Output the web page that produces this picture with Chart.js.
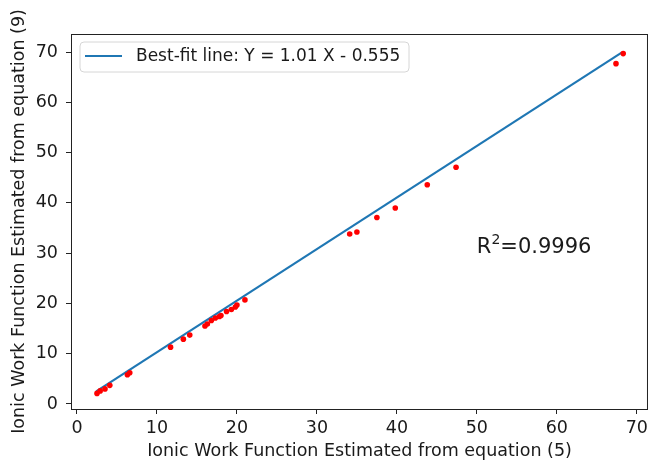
<!DOCTYPE html>
<html>
<head>
<meta charset="utf-8">
<script src="https://cdn.jsdelivr.net/npm/chart.js@4/dist/chart.umd.min.js"></script>
<style>
  html, body { margin: 0; padding: 0; background: #fff; }
  #wrap { width: 652px; height: 462px; }
</style>
</head>
<body>
<div id="wrap"><canvas id="chart" width="652" height="462"></canvas></div>
<script>
// values
const xValues = [2.5, 2.9, 3.5, 4.1, 6.3, 6.6, 11.7, 13.3, 14.1, 16.0, 16.3, 16.8, 17.3, 17.8, 18.0, 18.7, 19.3, 19.8, 20.0, 21.0, 34.1, 35.0, 37.5, 39.8, 43.8, 47.4, 67.4, 68.3];
const yValues = [2.1, 2.6, 3.0, 3.7, 5.8, 6.2, 11.3, 12.9, 13.7, 15.5, 15.9, 16.6, 17.1, 17.4, 17.6, 18.4, 18.8, 19.3, 19.7, 20.7, 33.8, 34.2, 37.1, 39.0, 43.6, 47.1, 67.7, 69.7];
const fitX = [2.4, 68.1];
const fitY = [2.5, 69.9];
const tickValues = [0, 10, 20, 30, 40, 50, 60, 70];
const fitLabel = 'Best-fit line: Y = 1.01 X - 0.555';
const r2Text = '0.9996';

const FONT = 'DejaVu Sans';
const lineColor = '#1f77b4';
const pointColor = '#ff0000';
const textColor = '#1a1a1a';

const points = xValues.map((x, i) => ({ x: x, y: yValues[i] }));
const fitLine = fitX.map((x, i) => ({ x: x, y: fitY[i] }));

// frame, legend box and R^2 note
const extras = {
  id: 'extras',
  afterDraw(chart) {
    const ctx = chart.ctx;
    const a = chart.chartArea;
    ctx.save();
    ctx.strokeStyle = '#222';
    ctx.lineWidth = 1;
    ctx.strokeRect(a.left + 0.5, a.top + 0.5, a.right - a.left - 1, a.bottom - a.top);

    // legend
    const bx = 80, by = 42, bw = 329, bh = 30, r = 4;
    ctx.beginPath();
    ctx.moveTo(bx + r, by);
    ctx.arcTo(bx + bw, by, bx + bw, by + bh, r);
    ctx.arcTo(bx + bw, by + bh, bx, by + bh, r);
    ctx.arcTo(bx, by + bh, bx, by, r);
    ctx.arcTo(bx, by, bx + bw, by, r);
    ctx.closePath();
    ctx.fillStyle = 'rgba(255,255,255,0.85)';
    ctx.fill();
    ctx.strokeStyle = '#d6d6d6';
    ctx.stroke();
    ctx.strokeStyle = lineColor;
    ctx.lineWidth = 2.2;
    ctx.beginPath();
    ctx.moveTo(85, 56);
    ctx.lineTo(122, 56);
    ctx.stroke();
    ctx.fillStyle = textColor;
    ctx.font = '17px "' + FONT + '"';
    ctx.textBaseline = 'middle';
    ctx.textAlign = 'left';
    ctx.fillText(fitLabel, 136, 57);

    // R^2 text at data (50, 30)
    const x = chart.scales.x.getPixelForValue(50);
    const y = chart.scales.y.getPixelForValue(30);
    ctx.textBaseline = 'alphabetic';
    ctx.font = '21px "' + FONT + '"';
    ctx.fillText('R', x, y);
    let w = ctx.measureText('R').width;
    ctx.font = '14px "' + FONT + '"';
    ctx.fillText('2', x + w, y - 9);
    w += ctx.measureText('2').width;
    ctx.font = '21px "' + FONT + '"';
    ctx.fillText('=' + r2Text, x + w, y);
    ctx.restore();
  }
};

const setTicks = (scale) => {
  scale.ticks = tickValues.map((v) => ({ value: v }));
};

new Chart(document.getElementById('chart').getContext('2d'), {
  type: 'scatter',
  data: {
    datasets: [
      {
        label: fitLabel,
        data: fitLine,
        showLine: true,
        borderColor: lineColor,
        borderWidth: 2.2,
        pointRadius: 0,
        order: 2,
      },
      {
        label: 'data',
        data: points,
        backgroundColor: pointColor,
        borderColor: pointColor,
        pointRadius: 2.8,
        borderWidth: 0,
        order: 1,
      },
    ],
  },
  options: {
    responsive: false,
    animation: false,
    layout: { padding: { top: 34, right: 3, left: 0, bottom: 0 } },
    plugins: {
      legend: { display: false },
      tooltip: { enabled: false },
    },
    scales: {
      x: {
        type: 'linear',
        min: -0.75,
        max: 71.4,
        afterBuildTicks: setTicks,
        afterFit: (s) => { s.height = 53; },
        grid: { display: true, drawOnChartArea: false, drawTicks: true, tickLength: 5, color: '#222' },
        border: { display: true, color: '#222' },
        ticks: { color: textColor, padding: 4, font: { family: FONT, size: 17.5 } },
        title: {
          display: true,
          text: 'Ionic Work Function Estimated from equation (5)',
          color: textColor,
          padding: { top: 0, bottom: 0 },
          font: { family: FONT, size: 17.5 },
        },
      },
      y: {
        type: 'linear',
        min: -1.0,
        max: 73.6,
        afterBuildTicks: setTicks,
        afterFit: (s) => { s.width = 71; },
        grid: { display: true, drawOnChartArea: false, drawTicks: true, tickLength: 5, color: '#222' },
        border: { display: true, color: '#222' },
        ticks: { color: textColor, padding: 8, font: { family: FONT, size: 17.5 } },
        title: {
          display: true,
          text: 'Ionic Work Function Estimated from equation (9)',
          color: textColor,
          padding: { top: 9, bottom: 0 },
          font: { family: FONT, size: 17.5 },
        },
      },
    },
  },
  plugins: [extras],
});
</script>
</body>
</html>
